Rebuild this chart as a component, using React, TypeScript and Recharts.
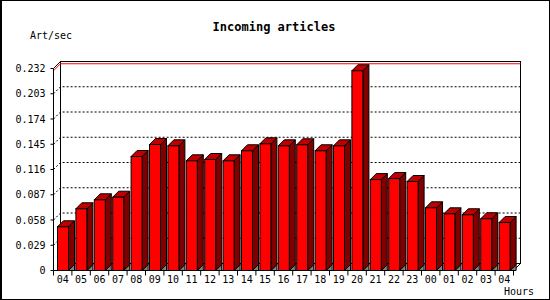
import { Bar, BarChart, ReferenceArea, ReferenceLine, XAxis, YAxis } from "recharts";

const hours = [
	"04", "05", "06", "07", "08", "09", "10", "11", "12", "13", "14", "15", "16",
	"17", "18", "19", "20", "21", "22", "23", "00", "01", "02", "03", "04",
];

const articlesPerSec = [
	0.0502, 0.0709, 0.0812, 0.0842, 0.1309, 0.1447, 0.1432, 0.126, 0.1275,
	0.126, 0.1375, 0.1455, 0.1432, 0.1444, 0.1375, 0.1432, 0.2294, 0.1044,
	0.1056, 0.1022, 0.072, 0.0651, 0.064, 0.0594, 0.0551,
];

const yTicks = [0, 0.029, 0.058, 0.087, 0.116, 0.145, 0.174, 0.203, 0.232];
const yTickLabels = ["0", "0.029", "0.058", "0.087", "0.116", "0.145", "0.174", "0.203", "0.232"];

const data = hours.map((hour, i) => ({ hour, value: articlesPerSec[i] }));
const peak = Math.max(...articlesPerSec);

const W = 550;
const H = 300;
const MARGIN = { top: 68.5, right: 36.5, bottom: 0, left: 0 };
const Y_AXIS_W = 53.5;
const X_AXIS_H = 29.5;
const PLOT_W = W - MARGIN.right - Y_AXIS_W;
const BAND = PLOT_W / hours.length;
const FRAME_D = 7; // depth of the back wall
const BAR_D = 6; // depth of each bar
const FONT = "'DejaVu Sans Mono', monospace";

function Bar3D(props: any) {
	const { x, y, width, height } = props;
	if (!height) return null;
	const d = BAR_D;
	const b = y + height;
	return (
		<g stroke="#000" strokeWidth={1}>
			<polygon
				points={`${x + width},${b} ${x + width + d},${b - d} ${x + width + d},${b}`}
				fill="#808080"
			/>
			<polygon
				points={`${x + width},${y} ${x + width + d},${y - d} ${x + width + d},${b - d} ${x + width},${b}`}
				fill="#800000"
			/>
			<polygon
				points={`${x},${y} ${x + d},${y - d} ${x + width + d},${y - d} ${x + width},${y}`}
				fill="#c00000"
			/>
			<rect x={x} y={y} width={width} height={height} fill="#ff0000" />
		</g>
	);
}

function Frame(props: any) {
	const { x, y, width, height } = props;
	const d = FRAME_D;
	const r = x + width;
	const b = y + height;
	return (
		<g stroke="#000" strokeWidth={1} fill="none">
			<rect x={x + d} y={y - d} width={width} height={height} fill="#fff" />
			<line x1={x} y1={y} x2={x + d} y2={y - d} />
			<line x1={r} y1={b} x2={r + d} y2={b - d} />
		</g>
	);
}

function GridLine(props: any) {
	const { x1, y1, x2 } = props;
	return (
		<polyline
			points={`${x1},${y1} ${x1 + FRAME_D},${y1 - FRAME_D} ${x2 + FRAME_D},${y1 - FRAME_D}`}
			fill="none"
			stroke="#000"
			strokeDasharray="2 2"
		/>
	);
}

function PeakLine(props: any) {
	const { x1, y1, x2 } = props;
	return (
		<polyline
			points={`${x1},${y1} ${x1 + FRAME_D},${y1 - FRAME_D} ${x2 + FRAME_D},${y1 - FRAME_D}`}
			fill="none"
			stroke="#ff0000"
		/>
	);
}

function HourTick(props: any) {
	const { x, y, payload, index } = props;
	const left = x - BAND / 2;
	return (
		<g>
			<line x1={left} y1={y} x2={left} y2={y + 5} stroke="#000" />
			{index === hours.length - 1 && (
				<line x1={x + BAND / 2} y1={y} x2={x + BAND / 2} y2={y + 5} stroke="#000" />
			)}
			<text x={x} y={y + 9} dy="0.355em" textAnchor="middle" fontFamily={FONT} fontSize={10} fill="#000">
				{payload.value}
			</text>
		</g>
	);
}

export default function App() {
	return (
		<div style={{ position: "absolute", left: 0, top: 0, width: W, height: H, background: "#fff" }}>
			<BarChart width={W} height={H} data={data} margin={MARGIN} barSize={11}>
				<ReferenceArea y1={0} y2={0.232} shape={Frame} zIndex={-60} />
				{yTicks.slice(1, -1).map((t) => (
					<ReferenceLine key={t} y={t} shape={GridLine} zIndex={-50} />
				))}
				<ReferenceLine y={peak} shape={PeakLine} zIndex={-40} />
				<XAxis
					dataKey="hour"
					height={X_AXIS_H}
					interval={0}
					tickSize={0}
					tickMargin={0}
					tick={HourTick}
					axisLine={{ stroke: "#000" }}
				/>
				<YAxis
					width={Y_AXIS_W}
					domain={[0, 0.232]}
					ticks={yTicks}
					tickFormatter={(v: number) => yTickLabels[yTicks.indexOf(v)]}
					tickSize={3}
					tickMargin={5}
					tick={{ fontFamily: FONT, fontSize: 10, fill: "#000" }}
					tickLine={{ stroke: "#000" }}
					axisLine={{ stroke: "#000" }}
				/>
				<Bar dataKey="value" shape={Bar3D} isAnimationActive={false} />
			</BarChart>
			<div style={{ position: "absolute", left: 0, top: 20, width: 548, textAlign: "center", fontFamily: FONT, fontSize: 12, fontWeight: "bold" }}>
				Incoming articles
			</div>
			<div style={{ position: "absolute", left: 30, top: 30, fontFamily: FONT, fontSize: 10 }}>Art/sec</div>
			<div style={{ position: "absolute", left: 504, top: 286, fontFamily: FONT, fontSize: 10 }}>Hours</div>
			<div
				style={{
					position: "absolute",
					left: 0,
					top: 0,
					width: W,
					height: H,
					boxSizing: "border-box",
					border: "1px solid #000",
					borderLeftWidth: 2,
					pointerEvents: "none",
				}}
			/>
		</div>
	);
}
